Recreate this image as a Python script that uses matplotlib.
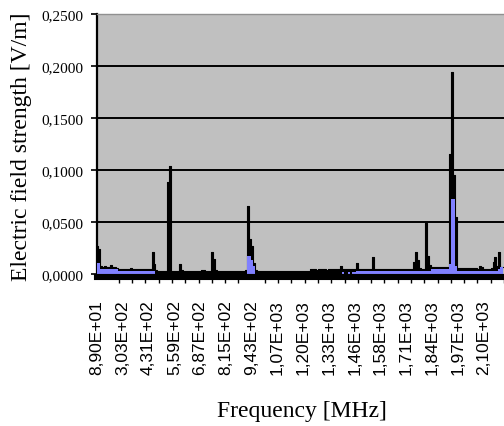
import numpy as np
import matplotlib
matplotlib.use('Agg')
import matplotlib.pyplot as plt
from matplotlib.ticker import FuncFormatter

# frequency labels shown on the category axis (one every 13 categories)
freq_labels = ['8,90E+01', '3,03E+02', '4,31E+02', '5,59E+02', '6,87E+02', '8,15E+02',
               '9,43E+02', '1,07E+03', '1,20E+03', '1,33E+03', '1,46E+03', '1,58E+03',
               '1,71E+03', '1,84E+03', '1,97E+03', '2,10E+03']

# maximum field strength [V/m], one value per category
e_max = [
    0.027, 0.024, 0.008, 0.007, 0.008, 0.007, 0.007, 0.009, 0.007, 0.007, 0.006, 0.005, 0.005,
    0.005, 0.005, 0.005, 0.005, 0.006, 0.005, 0.005, 0.005, 0.005, 0.005, 0.005, 0.005, 0.005,
    0.005, 0.005, 0.021, 0.010, 0.004, 0.003, 0.003, 0.003, 0.003, 0.003, 0.088, 0.104, 0.003,
    0.003, 0.003, 0.003, 0.010, 0.004, 0.003, 0.003, 0.003, 0.003, 0.003, 0.003, 0.003, 0.003,
    0.003, 0.004, 0.004, 0.003, 0.003, 0.003, 0.021, 0.014, 0.004, 0.003, 0.003, 0.003, 0.003,
    0.003, 0.003, 0.003, 0.003, 0.003, 0.003, 0.003, 0.003, 0.003, 0.003, 0.004, 0.065, 0.034,
    0.027, 0.011, 0.004, 0.003, 0.003, 0.003, 0.003, 0.003, 0.003, 0.003, 0.003, 0.003, 0.003,
    0.003, 0.003, 0.003, 0.003, 0.003, 0.003, 0.003, 0.003, 0.003, 0.003, 0.003, 0.003, 0.003,
    0.003, 0.003, 0.003, 0.003, 0.005, 0.005, 0.005, 0.004, 0.005, 0.005, 0.005, 0.005, 0.004,
    0.005, 0.005, 0.005, 0.005, 0.005, 0.005, 0.008, 0.005, 0.005, 0.005, 0.005, 0.005, 0.005,
    0.005, 0.011, 0.005, 0.005, 0.005, 0.005, 0.005, 0.005, 0.005, 0.016, 0.005, 0.005, 0.005,
    0.005, 0.005, 0.005, 0.005, 0.005, 0.005, 0.005, 0.005, 0.005, 0.005, 0.005, 0.005, 0.005,
    0.005, 0.005, 0.005, 0.005, 0.012, 0.021, 0.013, 0.006, 0.005, 0.005, 0.049, 0.017, 0.009,
    0.007, 0.007, 0.007, 0.007, 0.007, 0.007, 0.007, 0.007, 0.007, 0.115, 0.194, 0.095, 0.055,
    0.006, 0.006, 0.006, 0.006, 0.006, 0.006, 0.006, 0.006, 0.006, 0.006, 0.005, 0.008, 0.007,
    0.005, 0.005, 0.005, 0.005, 0.006, 0.012, 0.016, 0.008, 0.021, 0.007, 0.007,
]

# average field strength [V/m]
e_avg = [
    0.011, 0.011, 0.005, 0.005, 0.005, 0.005, 0.005, 0.005, 0.005, 0.005, 0.005, 0.003, 0.003,
    0.003, 0.003, 0.003, 0.003, 0.003, 0.003, 0.003, 0.003, 0.003, 0.003, 0.003, 0.003, 0.003,
    0.003, 0.003, 0.003, 0.003, 0.0, 0.0, 0.0, 0.0, 0.0, 0.0, 0.0, 0.0, 0.0,
    0.0, 0.0, 0.0, 0.0, 0.0, 0.0, 0.0, 0.0, 0.0, 0.0, 0.0, 0.0, 0.0,
    0.0, 0.0, 0.0, 0.0, 0.0, 0.0, 0.0, 0.0, 0.0, 0.0, 0.0, 0.0, 0.0,
    0.0, 0.0, 0.0, 0.0, 0.0, 0.0, 0.0, 0.0, 0.0, 0.0, 0.0, 0.017, 0.017,
    0.013, 0.008, 0.0, 0.0, 0.0, 0.0, 0.0, 0.0, 0.0, 0.0, 0.0, 0.0, 0.0,
    0.0, 0.0, 0.0, 0.0, 0.0, 0.0, 0.0, 0.0, 0.0, 0.0, 0.0, 0.0, 0.0,
    0.0, 0.0, 0.0, 0.0, 0.0, 0.0, 0.0, 0.0, 0.0, 0.0, 0.0, 0.0, 0.0,
    0.0, 0.0, 0.0, 0.0, 0.0, 0.0, 0.0, 0.002, 0.0, 0.0, 0.002, 0.0, 0.002,
    0.002, 0.0025, 0.0025, 0.0025, 0.0025, 0.0025, 0.0025, 0.0025, 0.0025, 0.0025, 0.0025, 0.0025, 0.0025,
    0.0025, 0.0025, 0.0025, 0.0025, 0.0025, 0.0025, 0.0025, 0.0025, 0.0025, 0.0025, 0.0025, 0.0025, 0.0025,
    0.0025, 0.0025, 0.0025, 0.0025, 0.0025, 0.0025, 0.0025, 0.0025, 0.0025, 0.0025, 0.0025, 0.0025, 0.0025,
    0.005, 0.005, 0.005, 0.005, 0.005, 0.005, 0.005, 0.005, 0.005, 0.010, 0.072, 0.072, 0.008,
    0.003, 0.003, 0.003, 0.003, 0.003, 0.003, 0.003, 0.003, 0.003, 0.003, 0.003, 0.003, 0.003,
    0.003, 0.003, 0.003, 0.003, 0.003, 0.003, 0.003, 0.003, 0.005, 0.007, 0.007,
]

idx = np.arange(len(e_max))

fig = plt.figure(figsize=(5.04, 4.27), dpi=100)
ax = fig.add_axes([0.1925, 0.356, 0.8075, 0.609])
ax.set_facecolor('#C0C0C0')

ax.fill_between(idx, 0, e_max, step='mid', color='black', lw=0, zorder=3)
ax.step(idx, e_max, where='mid', color='black', lw=0.8, zorder=3)
ax.fill_between(idx, 0, e_avg, step='mid', color='#8080FF', lw=0, zorder=4)

# thick black base band under the category axis
ax.axhline(-0.0029, color='black', lw=4.4, clip_on=False, zorder=5)

ax.set_ylim(0, 0.25)
ax.set_xlim(0, len(e_max) - 0.9)
ax.set_yticks(np.arange(0, 0.2501, 0.05))
ax.yaxis.set_major_formatter(FuncFormatter(lambda v, p: ('%.4f' % v).replace('.', ',')))
for v in np.arange(0.05, 0.201, 0.05):
    ax.axhline(v, color='black', lw=1.4, zorder=2)

ax.set_xticks(idx[::13][:len(freq_labels)])
ax.set_xticklabels(freq_labels, rotation=90, fontsize=12.5, family='Liberation Sans')
ax.set_xticks(np.arange(11, len(e_max), 6.7), minor=True)
ax.tick_params(axis='x', which='major', length=0, pad=18)
ax.tick_params(axis='x', which='minor', length=6.5, width=1, color='black')
ax.tick_params(axis='y', length=4.5, width=1.2, pad=5, labelsize=11)
for t in ax.get_yticklabels():
    t.set_family('Liberation Serif')

ax.spines['right'].set_visible(False)
ax.spines['top'].set_color('#909090')
ax.spines['top'].set_linewidth(1)
ax.spines['left'].set_linewidth(1.6)
ax.spines['bottom'].set_visible(False)

ax.set_ylabel('Electric field strength [V/m]', family='Liberation Serif', fontsize=17)
ax.yaxis.set_label_coords(-0.16, 0.494)
ax.set_xlabel('Frequency [MHz]', family='Liberation Serif', fontsize=17)
ax.xaxis.set_label_coords(0.504, -0.485)

fig.savefig('out.png', dpi=100)
